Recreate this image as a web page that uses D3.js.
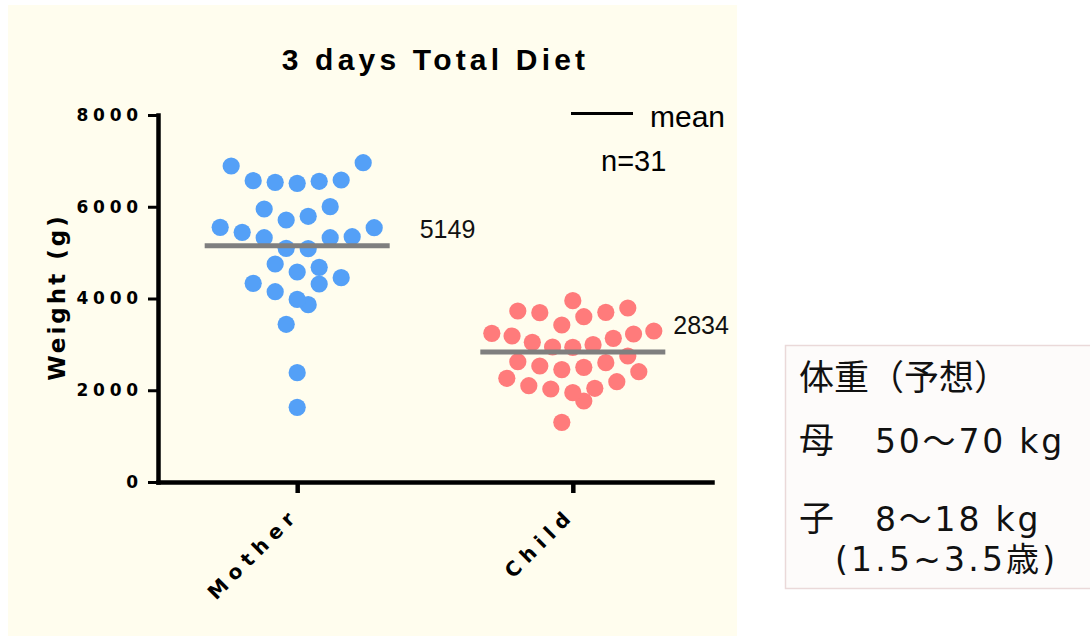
<!DOCTYPE html>
<html><head><meta charset="utf-8">
<script src="https://cdn.jsdelivr.net/npm/d3@7"></script>
<style>body{margin:0;background:#fff;} svg{display:block;}</style>
</head><body>
<svg id="chart" width="1090" height="636"></svg>
<script>
// ---------- data ----------
const categories = ["Mother", "Child"];
const motherValues = [6511, 6533, 6555, 6568, 6583, 6888, 6960,
  5711, 5792, 5951, 6001,
  5094, 5086, 5325, 5325, 5443, 5347, 5552, 5543,
  4578, 4752, 4680,
  3980, 4148, 4316, 4331, 4455,
  3438, 3865, 2383, 1628];
const childValues = [1301, 1766, 1947, 2027, 2043, 2099, 2186, 2261, 2404,
  2450, 2500, 2529, 2601, 2622, 2747,
  2935, 2943, 2993, 3045, 3132, 3183, 3226, 3241, 3292,
  3422, 3603, 3691, 3699, 3728, 3793, 3952];
const meanValues = [5149, 2834];
const yTicks = [0, 2000, 4000, 6000, 8000];
const titleText = "3 days Total Diet";
const yTitleText = "Weight (g)";
const legendLabel = "mean";
const nLabel = "n=31";
const noteTitle = "体重（予想）";
const noteRows = [["母", "50～70 kg"], ["子", "8～18 kg"]];
const noteAge = "(1.5~3.5歳)";

// ---------- styles ----------
const colors = ["#54a0f7", "#ff7b7b"];
const meanLabelOffsets = [[30, -8], [8, -18]];
const sansFont = "Liberation Sans, Arial, sans-serif";
const wideBold = "DejaVu Sans, Liberation Sans, sans-serif";

const svg = d3.select("#chart");
svg.append("rect").attr("width", 1090).attr("height", 636).attr("fill", "#ffffff");
svg.append("rect").attr("x", 8).attr("y", 5).attr("width", 729).attr("height", 631).attr("fill", "#fffdee");

const x = d3.scalePoint().domain(categories).range([158, 712]).padding(0.505);
const y = d3.scaleLinear().domain([0, 8000]).range([482, 115]);

// beeswarm layout (rows by value, alternate centre-out)
function swarm(values) {
  const T = 480, maxSpan = 162, gap = 22;
  const idx = values.map((v, i) => i).sort((a, b) => values[a] - values[b] || a - b);
  const rows = [];
  let cur = null;
  idx.forEach(i => {
    if (!cur || values[i] - values[cur[0]] >= T) { cur = [i]; rows.push(cur); }
    else cur.push(i);
  });
  const out = [];
  rows.forEach(r => {
    r.sort((a, b) => a - b);
    const n = r.length;
    const sp = n > 1 ? Math.min(gap, maxSpan / (n - 1)) : gap;
    r.forEach((i, k) => {
      let slot;
      if (n % 2) slot = k === 0 ? 0 : (k % 2 ? -(k + 1) / 2 : k / 2);
      else slot = k % 2 === 0 ? -(k / 2 + 0.5) : ((k - 1) / 2 + 0.5);
      out.push({ value: values[i], dx: slot * sp });
    });
  });
  return out;
}

const groups = [motherValues, childValues];

// dots
groups.forEach((vals, gi) => {
  const cx = x(categories[gi]);
  svg.append("g").selectAll("circle").data(swarm(vals)).join("circle")
    .attr("cx", d => cx + d.dx)
    .attr("cy", d => y(d.value))
    .attr("r", 8.6)
    .attr("fill", colors[gi]);
});

// mean lines + labels
const halfLine = 92.5;
categories.forEach((c, gi) => {
  const cx = x(c), my = y(meanValues[gi]);
  svg.append("line").attr("x1", cx - halfLine).attr("x2", cx + halfLine)
    .attr("y1", my).attr("y2", my)
    .attr("stroke", "#7f7f7f").attr("stroke-width", 5);
  svg.append("text").attr("x", cx + halfLine + meanLabelOffsets[gi][0])
    .attr("y", my + meanLabelOffsets[gi][1])
    .attr("font-family", sansFont)
    .attr("font-size", 25).attr("fill", "#111")
    .text(meanValues[gi]);
});

// y axis
const yAxis = svg.append("g").attr("transform", "translate(158,0)")
  .call(d3.axisLeft(y).tickValues(yTicks).tickFormat(d3.format("d")).tickSize(10).tickSizeOuter(0).tickPadding(5));
yAxis.select(".domain").attr("stroke", "#000").attr("stroke-width", 4.5).attr("stroke-linecap", "square");
yAxis.selectAll(".tick line").attr("stroke", "#000").attr("stroke-width", 3);
yAxis.selectAll(".tick text")
  .attr("font-family", wideBold)
  .attr("font-weight", "bold").attr("font-size", 17)
  .attr("letter-spacing", 4.8).attr("fill", "#000");

// x axis
const xAxis = svg.append("g").attr("transform", "translate(0,482)")
  .call(d3.axisBottom(x).tickSize(11).tickSizeOuter(0));
xAxis.select(".domain").attr("stroke", "#000").attr("stroke-width", 4.5).attr("stroke-linecap", "square");
xAxis.selectAll(".tick line").attr("stroke", "#000").attr("stroke-width", 4.5);
xAxis.selectAll(".tick text")
  .attr("x", 0).attr("y", 0).attr("dy", 0)
  .attr("text-anchor", "end")
  .attr("transform", "translate(3,34) rotate(-45)")
  .attr("font-family", wideBold)
  .attr("font-weight", "bold").attr("font-size", 20)
  .attr("letter-spacing", 6.5).attr("fill", "#000");

// title
svg.append("text").attr("x", 435.5).attr("y", 69.5)
  .attr("text-anchor", "middle")
  .attr("font-family", sansFont)
  .attr("font-weight", "bold").attr("font-size", 30).attr("letter-spacing", 4.2)
  .attr("fill", "#000").text(titleText);

// y title
svg.append("text").attr("transform", "translate(65,297) rotate(-90)")
  .attr("text-anchor", "middle")
  .attr("font-family", wideBold)
  .attr("font-weight", "bold").attr("font-size", 23).attr("letter-spacing", 3)
  .attr("fill", "#000").text(yTitleText);

// legend
svg.append("line").attr("x1", 571).attr("x2", 633).attr("y1", 113.5).attr("y2", 113.5)
  .attr("stroke", "#000").attr("stroke-width", 3);
svg.append("text").attr("x", 650).attr("y", 127)
  .attr("font-family", sansFont)
  .attr("font-size", 30).attr("fill", "#000").text(legendLabel);
svg.append("text").attr("x", 601).attr("y", 170.5)
  .attr("font-family", sansFont)
  .attr("font-size", 29).attr("fill", "#000").text(nLabel);

// note box
svg.append("rect").attr("x", 785.5).attr("y", 345.5).attr("width", 310).attr("height", 243)
  .attr("fill", "#fdfbfa").attr("stroke", "#ead9d9").attr("stroke-width", 1.5);
const cjk = "Noto Sans CJK JP, sans-serif";
const lat = "DejaVu Sans, Noto Sans CJK JP, sans-serif";
svg.append("text").attr("x", 799).attr("y", 390)
  .attr("font-family", cjk).attr("font-size", 35).attr("fill", "#111").text(noteTitle);
noteRows.forEach((r, i) => {
  const by = [453, 531][i];
  svg.append("text").attr("x", 799).attr("y", by)
    .attr("font-family", cjk).attr("font-size", 35).attr("fill", "#111").text(r[0]);
  svg.append("text").attr("x", 875).attr("y", by)
    .attr("font-family", lat).attr("font-size", 33).attr("letter-spacing", 2.8)
    .attr("fill", "#111").text(r[1]);
});
svg.append("text").attr("x", 835).attr("y", 571)
  .attr("font-family", lat).attr("font-size", 33).attr("letter-spacing", 3.2)
  .attr("fill", "#111").text(noteAge);
</script>
</body></html>
